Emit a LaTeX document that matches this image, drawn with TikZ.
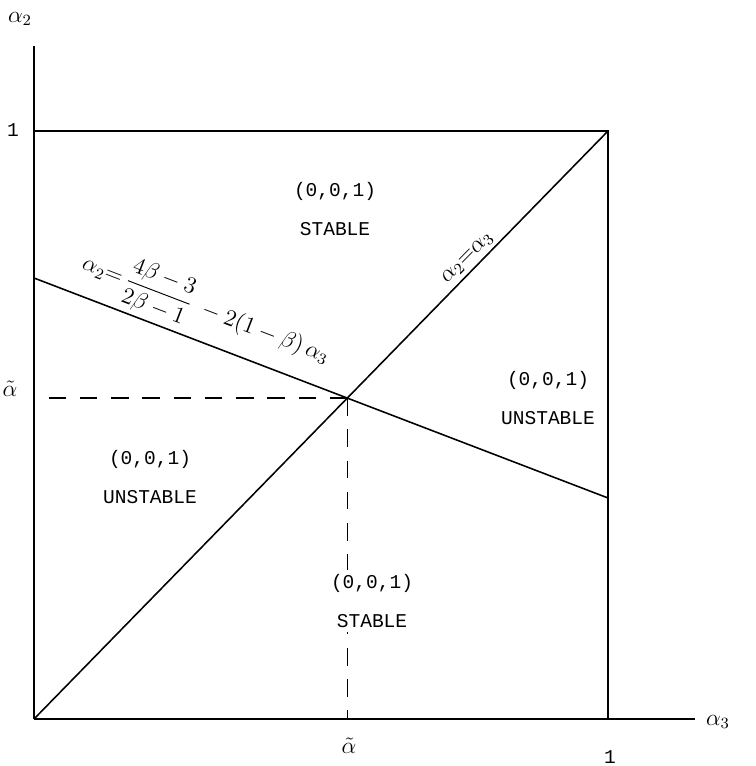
\documentclass[tikz,border=0pt]{standalone}
\usepackage{amsmath,amssymb}
\usepackage{fontspec}
\setmonofont{Liberation Mono}
\usepackage{tikz}
\usetikzlibrary{positioning}

\begin{document}
\begin{tikzpicture}[
  x=0.018cm,y=-0.018cm,
  every node/.style={font=\ttfamily},
  ln/.style={line width=0.8pt},
  dsh/.style={line width=0.7pt,dash pattern=on 9pt off 7pt},
  reg/.style={align=center,fill=white,inner sep=2pt},
  lab/.style={font=\large}
]
\useasboundingbox (0,0) rectangle (755,766);

\coordinate (O) at (34,719);
\coordinate (xend) at (695,719);
\coordinate (yend) at (34,46);
\coordinate (TL) at (34,131);
\coordinate (TR) at (608,131);
\coordinate (BR) at (608,719);
\coordinate (P) at (34,278);
\coordinate (Q) at (608,498);
\coordinate (X) at (intersection of O--TR and P--Q);

\draw[ln] (O) -- (xend);
\draw[ln] (O) -- (yend);
\draw[ln] (TL) -- (TR) -- (BR);
\draw[ln] (O) -- (TR) node[pos=0.77,above=1pt,sloped,inner sep=1pt,lab] (diag) {$\alpha_2{=}\alpha_3$};
\draw[ln] (P) -- (Q) node[pos=0.28,above=1pt,sloped,inner sep=1pt,lab] (bound) {$\alpha_2{=}\,\dfrac{4\beta-3}{2\beta-1}\;-2(1-\beta)\,\alpha_3$};
\draw[dsh] (X) -- (O |- X);
\draw[dsh] (X) -- (X |- O);

\node[lab] (ya) at (20,19) {$\alpha_2$};
\node[lab] (xa) at (718,722) {$\alpha_3$};
\node (yone) at (13,130) {1};
\node (xone) at (610,757) {1};
\node[lab] (yt) at (10,389) {$\tilde{\alpha}$};
\node[lab] (xt) at (349,746) {$\tilde{\alpha}$};

\node[reg] (top) at (335,209) {(0,0,1)\\[8pt]STABLE};
\node[reg] (right) at (548,398) {(0,0,1)\\[8pt]UNSTABLE};
\node[reg] (left) at (150,477) {(0,0,1)\\[8pt]UNSTABLE};
\node[reg] (bottom) at (372,601) {(0,0,1)\\[8pt]STABLE};
\end{tikzpicture}
\end{document}
